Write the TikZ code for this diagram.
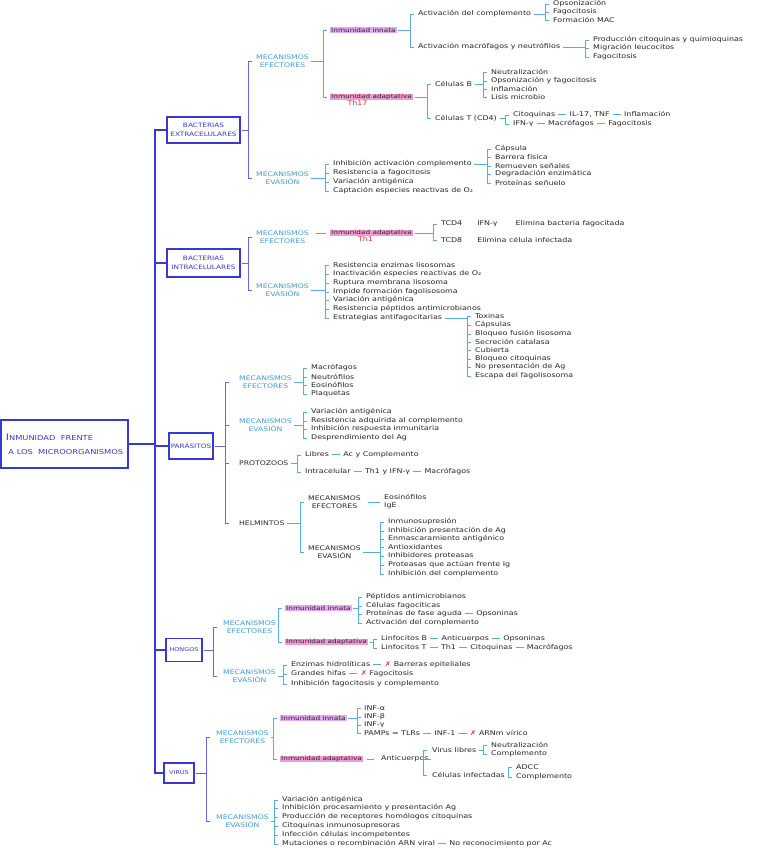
\documentclass[tikz,border=0pt]{standalone}
\usepackage{fontspec}
\setmainfont{DejaVu Sans}[FakeStretch=1.22]
\usepackage{tikz}
\usetikzlibrary{positioning,calc}

\definecolor{mainblue}{HTML}{3838D2}
\definecolor{lineblue}{HTML}{6767DE}
\definecolor{skyblue}{HTML}{5AABDF}
\definecolor{headblue}{HTML}{3F9BD8}
\definecolor{innatepink}{HTML}{E6AAF0}
\definecolor{adaptpink}{HTML}{F39AD6}
\definecolor{thred}{HTML}{E5322B}

\newcommand{\dsh}{\enspace\textcolor{skyblue}{\rule[0.6ex]{8pt}{0.6pt}}\enspace}
\newcommand{\nope}{\textcolor{thred}{✗}}
% bracket from a parent to its children: style, parent, gap, children
\newcommand{\forkto}[4]{%
  \foreach \kid [count=\i] in {#4} {
    \draw[#1] ([xshift=-#3]\kid.west) -- ++(3.5,0);
    \ifnum\i=1 \xdef\firstkid{\kid}\fi
    \xdef\lastkid{\kid}
  }
  \coordinate (fork) at ([xshift=-#3]\firstkid.west);
  \draw[#1] (fork) -- ([xshift=-#3]\lastkid.west);
  \draw[#1] ([xshift=1.5pt]#2.east) -- (fork |- #2.east);
}

\tikzset{
  leaf/.style={anchor=west, inner sep=1pt, text=black!85},
  head/.style={anchor=west, inner sep=1pt, align=center, text=headblue,
    font=\fontsize{6.3}{8.5}\selectfont},
  black head/.style={head, text=black!85},
  innate/.style={leaf, fill=innatepink, inner ysep=0.3pt, font=\fontsize{6}{8}\selectfont},
  adaptive/.style={leaf, fill=adaptpink, inner ysep=0.3pt, font=\fontsize{6}{8}\selectfont},
  th label/.style={text=thred, inner sep=0.5pt},
}

\begin{document}
\begin{tikzpicture}[
    x=1pt, y=-1pt,
    every node/.style={font=\fontsize{6.5}{8}\selectfont},
    main line/.style={draw=mainblue, line width=1.2pt},
    level line/.style={draw=lineblue, line width=0.9pt},
    fork line/.style={draw=skyblue, line width=0.8pt},
    group box/.style={draw=mainblue, line width=1.3pt, text=mainblue,
      align=center, inner sep=1pt, font=\fontsize{6}{8.5}\selectfont},
    main box/.style={draw=mainblue, line width=1.6pt, text=mainblue,
      align=left, minimum width=127, minimum height=48,
      font=\fontsize{6.8}{9}\selectfont}
    ]
    \useasboundingbox (0,0) rectangle (762,848);

    \node[main box] (main) at (64.5,444)
      {{\fontsize{9}{9}\selectfont I}NMUNIDAD\ \ FRENTE\\[5pt]
       \ A LOS\ \ MICROORGANISMOS};

    \node[group box, minimum width=73, minimum height=26] (be) at (203.5,130) {BACTERIAS\\EXTRACELULARES};
    \node[group box, minimum width=73, minimum height=28] (bi) at (203.5,263) {BACTERIAS\\INTRACELULARES};
    \node[group box, minimum width=44, minimum height=26] (par) at (191,446) {PARÁSITOS};
    \node[group box, minimum width=36, minimum height=23, font=\fontsize{5.3}{8}\selectfont] (hon) at (184,650) {HONGOS};
    \node[group box, minimum width=30, minimum height=20, font=\fontsize{5.3}{8}\selectfont] (vir) at (179,773) {VIRUS};

    \coordinate (hub) at (155,444);
    \draw[main line] (main.east) -- (hub);
    \draw[main line] (be.west) -| (hub) |- (vir.west);
    \draw[main line] (hub |- bi.west) -- (bi.west);
    \draw[main line] (hub |- par.west) -- (par.west);
    \draw[main line] (hub |- hon.west) -- (hon.west);

    % bacterias extracelulares
    \node[head] (beEf) at (255,61) {MECANISMOS\\EFECTORES};
    \node[head] (beEv) at (255,178) {MECANISMOS\\EVASIÓN};
    \forkto{level line}{be}{7}{beEf,beEv}

    \node[innate] (beIn) at (330,30) {Inmunidad innata};
    \node[adaptive] (beAd) at (330,97) {Inmunidad adaptativa};
    \node[th label, below=-0.5pt of beAd, xshift=-14pt] (beTh) {Th17};
    \forkto{fork line}{beEf}{7}{beIn,beAd}

    \node[leaf] (beC) at (417,14) {Activación del complemento};
    \node[leaf] (beM) at (417,47) {Activación macrófagos y neutrófilos};
    \forkto{fork line}{beIn}{7}{beC,beM}

    \node[leaf] (beC1) at (552,4) {Opsonización};
    \node[leaf] (beC2) at (552,12) {Fagocitosis};
    \node[leaf] (beC3) at (552,20) {Formación MAC};
    \forkto{fork line}{beC}{7}{beC1,beC2,beC3}

    \node[leaf] (beM1) at (592,40) {Producción citoquinas y quimioquinas};
    \node[leaf] (beM2) at (592,48) {Migración leucocitos};
    \node[leaf] (beM3) at (592,57) {Fagocitosis};
    \forkto{fork line}{beM}{7}{beM1,beM2,beM3}

    \node[leaf] (beB) at (434,84) {Células B};
    \node[leaf] (beT) at (434,118) {Células T (CD4)};
    \forkto{fork line}{beAd}{7}{beB,beT}

    \node[leaf] (beB1) at (490,72) {Neutralización};
    \node[leaf] (beB2) at (490,81) {Opsonización y fagocitosis};
    \node[leaf] (beB3) at (490,89) {Inflamación};
    \node[leaf] (beB4) at (490,97) {Lisis microbio};
    \forkto{fork line}{beB}{7}{beB1,beB2,beB3,beB4}

    \node[leaf] (beT1) at (512,115) {Citoquinas\dsh IL-17, TNF\dsh Inflamación};
    \node[leaf] (beT2) at (512,124) {IFN-γ\dsh Macrófagos\dsh Fagocitosis};
    \forkto{fork line}{beT}{7}{beT1,beT2}

    \node[leaf] (beV1) at (332,164) {Inhibición activación complemento};
    \node[leaf] (beV2) at (332,173) {Resistencia a fagocitosis};
    \node[leaf] (beV3) at (332,182) {Variación antigénica};
    \node[leaf] (beV4) at (332,191) {Captación especies reactivas de O₂};
    \forkto{fork line}{beEv}{7}{beV1,beV2,beV3,beV4}

    \node[leaf] (beK1) at (494,149) {Cápsula};
    \node[leaf] (beK2) at (494,157) {Barrera física};
    \node[leaf] (beK3) at (494,166) {Remueven señales};
    \node[leaf] (beK4) at (494,174) {Degradación enzimática};
    \node[leaf] (beK5) at (494,183) {Proteínas señuelo};
    \forkto{fork line}{beV1}{7}{beK1,beK2,beK3,beK4,beK5}

    % bacterias intracelulares
    \node[head] (biEf) at (255,237) {MECANISMOS\\EFECTORES};
    \node[head] (biEv) at (255,290) {MECANISMOS\\EVASIÓN};
    \forkto{level line}{bi}{7}{biEf,biEv}

    \node[adaptive] (biAd) at (330,233) {Inmunidad adaptativa};
    \node[th label, below=-0.5pt of biAd, xshift=-6pt] (biTh) {Th1};
    \draw[fork line, shorten <=6pt, shorten >=4pt] (biEf.east |- biAd.west) -- (biAd.west);

    \node[leaf] (biT1) at (440,224) {TCD4\hspace{15pt}IFN-γ\hspace{18pt}Elimina bacteria fagocitada};
    \node[leaf] (biT2) at (440,240) {TCD8\hspace{15pt}Elimina célula infectada};
    \forkto{fork line}{biAd}{7}{biT1,biT2}

    \node[leaf] (biV1) at (332,265) {Resistencia enzimas lisosomas};
    \node[leaf] (biV2) at (332,274) {Inactivación especies reactivas de O₂};
    \node[leaf] (biV3) at (332,283) {Ruptura membrana lisosoma};
    \node[leaf] (biV4) at (332,292) {Impide formación fagolisosoma};
    \node[leaf] (biV5) at (332,300) {Variación antigénica};
    \node[leaf] (biV6) at (332,309) {Resistencia péptidos antimicrobianos};
    \node[leaf] (biV7) at (332,318) {Estrategias antifagocitarias};
    \forkto{fork line}{biEv}{7}{biV1,biV2,biV3,biV4,biV5,biV6,biV7}

    \node[leaf] (biS1) at (474,316) {Toxinas};
    \node[leaf] (biS2) at (474,325) {Cápsulas};
    \node[leaf] (biS3) at (474,334) {Bloqueo fusión lisosoma};
    \node[leaf] (biS4) at (474,342) {Secreción catalasa};
    \node[leaf] (biS5) at (474,350) {Cubierta};
    \node[leaf] (biS6) at (474,359) {Bloqueo citoquinas};
    \node[leaf] (biS7) at (474,367) {No presentación de Ag};
    \node[leaf] (biS8) at (474,376) {Escapa del fagolisosoma};
    \forkto{fork line}{biV7}{7}{biS1,biS2,biS3,biS4,biS5,biS6,biS7,biS8}

    % parasitos
    \node[head] (parEf) at (238,382) {MECANISMOS\\EFECTORES};
    \node[head] (parEv) at (238,425) {MECANISMOS\\EVASIÓN};
    \node[black head] (parPr) at (238,463) {PROTOZOOS};
    \node[black head] (parHe) at (238,523) {HELMINTOS};
    \forkto{level line}{par}{13}{parEf,parEv,parPr,parHe}

    \node[leaf] (parE1) at (310,368) {Macrófagos};
    \node[leaf] (parE2) at (310,377) {Neutrófilos};
    \node[leaf] (parE3) at (310,385) {Eosinófilos};
    \node[leaf] (parE4) at (310,394) {Plaquetas};
    \forkto{fork line}{parEf}{7}{parE1,parE2,parE3,parE4}

    \node[leaf] (parV1) at (310,412) {Variación antigénica};
    \node[leaf] (parV2) at (310,421) {Resistencia adquirida al complemento};
    \node[leaf] (parV3) at (310,429) {Inhibición respuesta inmunitaria};
    \node[leaf] (parV4) at (310,438) {Desprendimiento del Ag};
    \forkto{fork line}{parEv}{7}{parV1,parV2,parV3,parV4}

    \node[leaf] (parP1) at (304,455) {Libres\dsh Ac y Complemento};
    \node[leaf] (parP2) at (304,472) {Intracelular\dsh Th1 y IFN-γ\dsh Macrófagos};
    \forkto{fork line}{parPr}{7}{parP1,parP2}

    \node[black head] (heEf) at (307,502) {MECANISMOS\\EFECTORES};
    \node[black head] (heEv) at (307,552) {MECANISMOS\\EVASIÓN};
    \forkto{fork line}{parHe}{7}{heEf,heEv}

    \node[leaf, align=left] (heEo) at (383,502) {Eosinófilos\\IgE};
    \draw[fork line, shorten <=6pt, shorten >=3pt] (heEf.east) -- (heEo.west);

    \node[leaf] (heV1) at (387,522) {Inmunosupresión};
    \node[leaf] (heV2) at (387,531) {Inhibición presentación de Ag};
    \node[leaf] (heV3) at (387,539) {Enmascaramiento antigénico};
    \node[leaf] (heV4) at (387,547) {Antioxidantes};
    \node[leaf] (heV5) at (387,556) {Inhibidores proteasas};
    \node[leaf] (heV6) at (387,565) {Proteasas que actúan frente Ig};
    \node[leaf] (heV7) at (387,574) {Inhibición del complemento};
    \forkto{fork line}{heEv}{7}{heV1,heV2,heV3,heV4,heV5,heV6,heV7}

    % hongos
    \node[head] (hoEf) at (222,627) {MECANISMOS\\EFECTORES};
    \node[head] (hoEv) at (222,676) {MECANISMOS\\EVASIÓN};
    \forkto{level line}{hon}{9}{hoEf,hoEv}

    \node[innate] (hoIn) at (285,608) {Inmunidad innata};
    \node[adaptive] (hoAd) at (285,642) {Inmunidad adaptativa};
    \forkto{fork line}{hoEf}{7}{hoIn,hoAd}

    \node[leaf] (hoI1) at (365,597) {Péptidos antimicrobianos};
    \node[leaf] (hoI2) at (365,606) {Células fagocíticas};
    \node[leaf] (hoI3) at (365,614) {Proteínas de fase aguda\dsh Opsoninas};
    \node[leaf] (hoI4) at (365,623) {Activación del complemento};
    \forkto{fork line}{hoIn}{7}{hoI1,hoI2,hoI3,hoI4}

    \node[leaf] (hoA1) at (380,639) {Linfocitos B\dsh Anticuerpos\dsh Opsoninas};
    \node[leaf] (hoA2) at (380,648) {Linfocitos T\dsh Th1\dsh Citoquinas\dsh Macrófagos};
    \forkto{fork line}{hoAd}{7}{hoA1,hoA2}

    \node[leaf] (hoV1) at (290,665) {Enzimas hidrolíticas\dsh\nope\ Barreras epiteliales};
    \node[leaf] (hoV2) at (290,674) {Grandes hifas\dsh\nope\ Fagocitosis};
    \node[leaf] (hoV3) at (290,684) {Inhibición fagocitosis y complemento};
    \forkto{fork line}{hoEv}{7}{hoV1,hoV2,hoV3}

    % virus
    \node[head] (viEf) at (215,737) {MECANISMOS\\EFECTORES};
    \node[head] (viEv) at (215,821) {MECANISMOS\\EVASIÓN};
    \forkto{level line}{vir}{9}{viEf,viEv}

    \node[innate] (viIn) at (280,718) {Inmunidad innata};
    \node[adaptive] (viAd) at (280,759) {Inmunidad adaptativa};
    \forkto{fork line}{viEf}{7}{viIn,viAd}

    \node[leaf] (viI1) at (363,708) {INF-α};
    \node[leaf] (viI2) at (363,717) {INF-β};
    \node[leaf] (viI3) at (363,725) {INF-γ};
    \node[leaf] (viI4) at (363,733) {PAMPs = TLRs\dsh INF-1\dsh\nope\ ARNm vírico};
    \forkto{fork line}{viIn}{6}{viI1,viI2,viI3,viI4}

    \node[leaf] (viAc) at (380,759) {Anticuerpos};
    \draw[fork line, shorten <=4pt, shorten >=6pt] (viAd.east) -- (viAc.west);

    \node[leaf] (viLi) at (431,750) {Virus libres};
    \node[leaf] (viCi) at (431,775) {Células infectadas};
    \forkto{fork line}{viAc}{8}{viLi,viCi}

    \node[leaf] (viL1) at (490,745) {Neutralización};
    \node[leaf] (viL2) at (490,754) {Complemento};
    \forkto{fork line}{viLi}{7}{viL1,viL2}

    \node[leaf] (viC1) at (515,767) {ADCC};
    \node[leaf] (viC2) at (515,777) {Complemento};
    \forkto{fork line}{viCi}{7}{viC1,viC2}

    \node[leaf] (viV1) at (281,800) {Variación antigénica};
    \node[leaf] (viV2) at (281,808) {Inhibición procesamiento y presentación Ag};
    \node[leaf] (viV3) at (281,817) {Producción de receptores homólogos citoquinas};
    \node[leaf] (viV4) at (281,826) {Citoquinas inmunosupresoras};
    \node[leaf] (viV5) at (281,835) {Infección células incompetentes};
    \node[leaf] (viV6) at (281,844) {Mutaciones o recombinación ARN viral\dsh No reconocimiento por Ac};
    \forkto{fork line}{viEv}{7}{viV1,viV2,viV3,viV4,viV5,viV6}
\end{tikzpicture}
\end{document}
